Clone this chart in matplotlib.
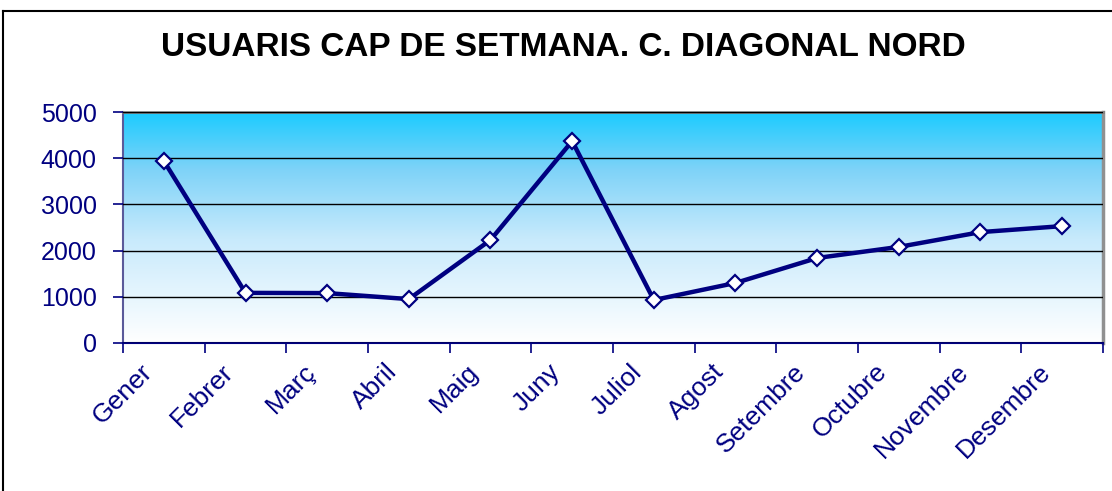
import numpy as np
import matplotlib.pyplot as plt
import matplotlib.transforms as mtransforms
from matplotlib.colors import LinearSegmentedColormap

## dades
mesos = ['Gener', 'Febrer', 'Març', 'Abril', 'Maig', 'Juny', 'Juliol',
         'Agost', 'Setembre', 'Octubre', 'Novembre', 'Desembre']
usuaris = [3940, 1085, 1080, 950, 2230, 4370, 930, 1300, 1840, 2080, 2400, 2530]
y_ticks = [0, 1000, 2000, 3000, 4000, 5000]

navy = '#000080'

fig = plt.figure(figsize=(11.12, 4.91), dpi=100)
ax = fig.add_axes([123 / 1112, 1 - 343 / 491, (1103 - 123) / 1112, (343 - 112) / 491])

# marc de la figura (esquerra i dalt)
fig.add_artist(plt.Line2D([3 / 1112, 3 / 1112], [0, 1 - 11 / 491], color='black', lw=1.5))
fig.add_artist(plt.Line2D([3 / 1112, 1], [1 - 11 / 491, 1 - 11 / 491], color='black', lw=1.5))

# fons degradat
cmap = LinearSegmentedColormap.from_list('deg', [(0, '#ffffff'), (0.45, '#c8eafc'),
                                                (0.75, '#7fd3f8'), (1, '#1ccbff')])
grad = np.linspace(0, 1, 256).reshape(-1, 1)
ax.imshow(grad, cmap=cmap, aspect='auto', origin='lower',
          extent=[0, 12, 0, 5000], zorder=0)

x = np.arange(len(mesos)) + 0.5
ax.plot(x, usuaris, color=navy, lw=3.2, marker='D', markersize=8,
        markerfacecolor='white', markeredgecolor=navy, markeredgewidth=1.6, zorder=3)

ax.set_xlim(0, 12)
ax.set_ylim(0, 5000)
ax.set_yticks(y_ticks)
ax.yaxis.grid(True, color='black', lw=1)
ax.set_axisbelow(False)
for ln in ax.get_ygridlines():
    ln.set_zorder(1)

ax.set_xticks(np.arange(13))
ax.set_xticklabels([])
ax.set_xticks(x, minor=True)
ax.set_xticklabels(mesos, minor=True, rotation=45, ha='right', va='top',
                   rotation_mode='anchor', color=navy, fontsize=19,
                   fontfamily='Liberation Sans')
ax.tick_params(axis='x', which='minor', length=0, pad=12)
off = mtransforms.ScaledTranslation(-24 / 100, 0, fig.dpi_scale_trans)
for lab in ax.get_xticklabels(minor=True):
    lab.set_transform(lab.get_transform() + off)
ax.tick_params(axis='x', which='major', length=7, width=1.2, color=navy, direction='out')
ax.tick_params(axis='y', length=7, width=1.2, color=navy, direction='out',
               labelsize=18, labelcolor=navy, pad=12)
for lab in ax.get_yticklabels():
    lab.set_fontfamily('Liberation Sans')

ax.spines['left'].set_color('#5a5a9a')
ax.spines['left'].set_linewidth(1.5)
ax.spines['bottom'].set_color(navy)
ax.spines['bottom'].set_linewidth(1.5)
ax.spines['top'].set_color('#808080')
ax.spines['top'].set_linewidth(2)
ax.spines['right'].set_color('#909090')
ax.spines['right'].set_linewidth(2.5)

fig.text(563 / 1112, 1 - 48 / 491, 'USUARIS CAP DE SETMANA. C. DIAGONAL NORD',
         ha='center', va='center', fontsize=24, fontweight='bold',
         fontfamily='Liberation Sans', color='black')

fig.savefig('out.png', dpi=100)
